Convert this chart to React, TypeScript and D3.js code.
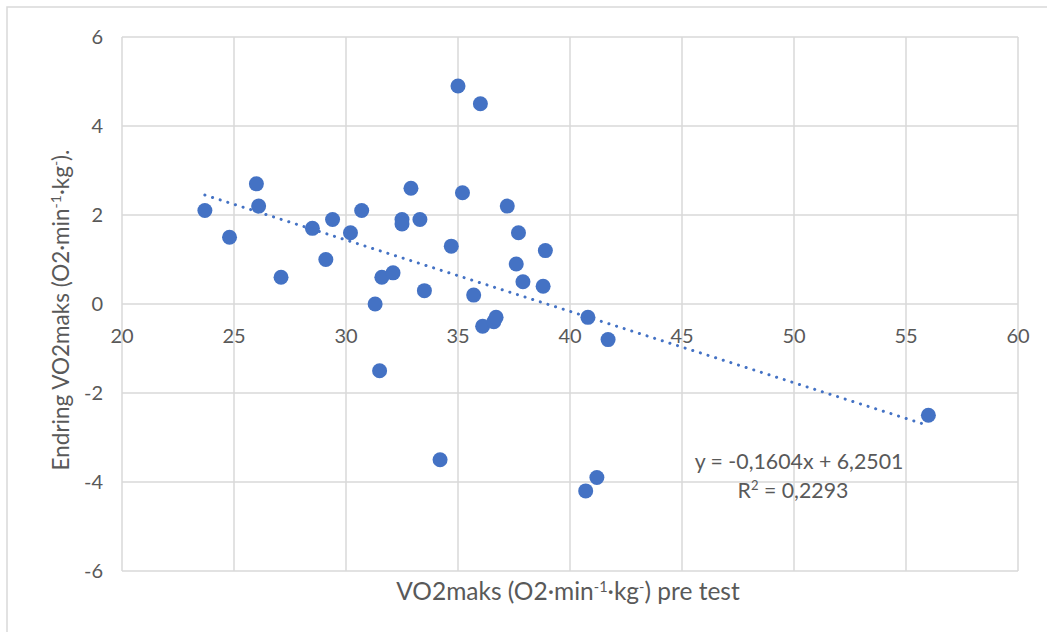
import React from "react";
import * as d3 from "d3";

const xValues = [23.7, 24.8, 26.0, 26.1, 27.1, 28.5, 29.1, 29.4, 30.2, 30.7, 31.3, 31.5, 31.6, 32.1, 32.5, 32.5, 32.9, 33.3, 33.5, 34.2, 34.7, 35.0, 35.2, 35.7, 36.0, 36.1, 36.6, 36.7, 37.2, 37.6, 37.7, 37.9, 38.8, 38.9, 40.7, 40.8, 41.2, 41.7, 56.0];
const yValues = [2.1, 1.5, 2.7, 2.2, 0.6, 1.7, 1.0, 1.9, 1.6, 2.1, 0.0, -1.5, 0.6, 0.7, 1.9, 1.8, 2.6, 1.9, 0.3, -3.5, 1.3, 4.9, 2.5, 0.2, 4.5, -0.5, -0.4, -0.3, 2.2, 0.9, 1.6, 0.5, 0.4, 1.2, -4.2, -0.3, -3.9, -0.8, -2.5];
const xTicks = [20, 25, 30, 35, 40, 45, 50, 55, 60];
const yTicks = [-6, -4, -2, 0, 2, 4, 6];
const slope = -0.1604;
const intercept = 6.2501;
const equationText = "y = -0,1604x + 6,2501";
const r2Value = "0,2293";

const FONT = "Lato, 'Open Sans', sans-serif";
const BLUE = "#4472C4";
const GRID = "#d9d9d9";
const TEXT = "#595959";

export default function App() {
  const x = d3.scaleLinear().domain([20, 60]).range([122, 1018]);
  const y = d3.scaleLinear().domain([-6, 6]).range([571, 37]);
  const xMin = d3.min(xValues) as number;
  const xMax = d3.max(xValues) as number;
  const trend = d3
    .line<number>()
    .x((d) => x(d))
    .y((d) => y(slope * d + intercept));

  return (
    <svg
      width={1047}
      height={632}
      style={{ position: "absolute", left: 0, top: 0, background: "#fff" }}
      fontFamily={FONT}
    >
      <rect x={0} y={0} width={1047} height={632} fill="#fff" />
      <path d="M7,640 L7,7 L1060,7" fill="none" stroke="#d9d9d9" strokeWidth={1.5} />
      {/* grid */}
      {xTicks.map((t) => (
        <line key={"gx" + t} x1={x(t)} x2={x(t)} y1={y(6)} y2={y(-6)} stroke={GRID} strokeWidth={1.5} />
      ))}
      {yTicks.map((t) => (
        <line key={"gy" + t} x1={x(20)} x2={x(60)} y1={y(t)} y2={y(t)} stroke={GRID} strokeWidth={1.5} />
      ))}
      {/* y tick labels */}
      {yTicks.map((t) => (
        <text key={"ty" + t} x={103} y={y(t)} dy="0.35em" textAnchor="end" fontSize={20} fill={TEXT}>
          {t}
        </text>
      ))}
      {/* x tick labels */}
      {xTicks.map((t) => (
        <text key={"tx" + t} x={x(t)} y={y(0) + 39} textAnchor="middle" fontSize={20} fill={TEXT}>
          {t}
        </text>
      ))}
      {/* points */}
      {xValues.map((v, i) => (
        <circle key={"p" + i} cx={x(v)} cy={y(yValues[i])} r={7.5} fill={BLUE} />
      ))}
      {/* trendline */}
      <path
        d={trend([xMin, xMax]) || ""}
        fill="none"
        stroke={BLUE}
        strokeWidth={3}
        strokeDasharray="0.1 7.9"
        strokeLinecap="round"
      />
      {/* equation */}
      <text x={799} y={469} textAnchor="middle" fontSize={21.3} fill={TEXT}>
        {equationText}
      </text>
      <text x={793} y={498} textAnchor="middle" fontSize={21.3} fill={TEXT}>
        R<tspan baselineShift="super" fontSize={13}>2</tspan> = {r2Value}
      </text>
      {/* axis titles */}
      <text x={568} y={600} textAnchor="middle" fontSize={24.5} fill={TEXT}>
        VO2maks (O2·min<tspan baselineShift="super" fontSize={14.5}>-1</tspan>·kg<tspan baselineShift="super" fontSize={14.5}>-</tspan>) pre test
      </text>
      <text
        transform={`translate(69,${(y(6) + y(-6)) / 2 + 6}) rotate(-90)`}
        textAnchor="middle"
        fontSize={22.5}
        fill={TEXT}
      >
        Endring VO2maks (O2·min<tspan baselineShift="super" fontSize={14}>-1</tspan>·kg<tspan baselineShift="super" fontSize={14}>-</tspan>).
      </text>
    </svg>
  );
}
